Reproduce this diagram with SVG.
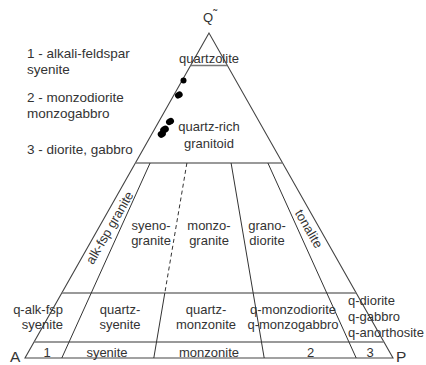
<svg xmlns="http://www.w3.org/2000/svg" width="426" height="365" viewBox="0 0 426 365">
<style>
  text { font-family: "Liberation Sans", Arial, sans-serif; font-size: 13px; fill: #333; }
  .leg { font-size: 13.5px; }
  .corner { font-size: 15.5px; }
  .edge { stroke: #444; stroke-width: 1.1; fill: none; }
  .hline { stroke: #777; stroke-width: 1.6; fill: none; }
  .rad { stroke: #333; stroke-width: 1; fill: none; }
  .dash { stroke-dasharray: 4 3; }
  .dot { fill: #000; }
</style>
<rect width="426" height="365" fill="#fff"/>

<g id="connectors">
  <polygon class="edge" points="209,33 25,358 393,358"/>
  <line class="hline" x1="190.6" y1="65.5" x2="227.4" y2="65.5"/>
  <line class="hline" x1="135.4" y1="163" x2="282.6" y2="163"/>
  <line class="hline" x1="61.8" y1="293" x2="356.2" y2="293"/>
  <line class="hline" x1="34.2" y1="342" x2="383.8" y2="342"/>
  <line class="rad" x1="150.1" y1="163" x2="61.8" y2="358"/>
  <line class="rad dash" x1="186.9" y1="163" x2="164.8" y2="293"/>
  <line class="rad" x1="164.8" y1="293" x2="153.8" y2="358"/>
  <line class="rad" x1="231.1" y1="163" x2="264.2" y2="358"/>
  <line class="rad" x1="267.9" y1="163" x2="356.2" y2="358"/>
</g>

<g id="samples">
  <circle class="dot" cx="183.5" cy="80.5" r="3"/>
  <ellipse class="dot" cx="178.8" cy="95" rx="4" ry="3.3" transform="rotate(-30 178.8 95)"/>
  <ellipse class="dot" cx="170" cy="121.5" rx="4.2" ry="3.3" transform="rotate(-30 170 121.5)"/>
  <ellipse class="dot" cx="164.5" cy="129.5" rx="4.5" ry="3.6" transform="rotate(-30 164.5 129.5)"/>
  <ellipse class="dot" cx="161.8" cy="134" rx="4.2" ry="3.5" transform="rotate(-30 161.8 134)"/>
</g>

<g id="corners">
  <text id="corner-Q" x="203" y="22">Q<tspan font-size="12" dy="-3">˜</tspan></text>
  <text id="corner-A" class="corner" x="10" y="362">A</text>
  <text id="corner-P" class="corner" x="396" y="362">P</text>
</g>

<g id="legend">
  <text class="leg" x="27" y="58">1 - alkali-feldspar</text>
  <text class="leg" x="27" y="74">syenite</text>
  <text class="leg" x="27" y="102">2 - monzodiorite</text>
  <text class="leg" x="27" y="118">monzogabbro</text>
  <text class="leg" x="27" y="154">3 - diorite, gabbro</text>
</g>

<g id="fields" text-anchor="middle">
  <g id="quartzolite"><text x="209" y="63">quartzolite</text></g>
  <g id="quartz-rich-granitoid"><text x="209" y="131">quartz-rich</text><text x="209" y="148">granitoid</text></g>
  <g id="alk-fsp-granite"><text x="110" y="232" transform="rotate(-60 110 228)">alk-fsp granite</text></g>
  <g id="syenogranite"><text x="151" y="230">syeno-</text><text x="151" y="245">granite</text></g>
  <g id="monzogranite"><text x="209" y="230">monzo-</text><text x="209" y="245">granite</text></g>
  <g id="granodiorite"><text x="267" y="230">grano-</text><text x="267" y="245">diorite</text></g>
  <g id="tonalite"><text x="308.5" y="233" transform="rotate(60 308.5 229)">tonalite</text></g>
  <g id="q-alk-fsp-syenite" text-anchor="end"><text x="63" y="314">q-alk-fsp</text><text x="63" y="329">syenite</text></g>
  <g id="quartz-syenite"><text x="120" y="314">quartz-</text><text x="120" y="329">syenite</text></g>
  <g id="quartz-monzonite"><text x="206" y="314">quartz-</text><text x="206" y="329">monzonite</text></g>
  <g id="q-monzodiorite"><text x="293" y="314">q-monzodiorite</text><text x="293" y="329">q-monzogabbro</text></g>
  <g id="q-diorite" text-anchor="start"><text x="348" y="305">q-diorite</text><text x="348" y="321">q-gabbro</text><text x="348" y="337">q-anorthosite</text></g>
  <g id="field-1"><text x="47" y="357">1</text></g>
  <g id="syenite"><text x="107" y="357">syenite</text></g>
  <g id="monzonite"><text x="209" y="357">monzonite</text></g>
  <g id="field-2"><text x="310.5" y="357">2</text></g>
  <g id="field-3"><text x="370" y="357">3</text></g>
</g>
</svg>
